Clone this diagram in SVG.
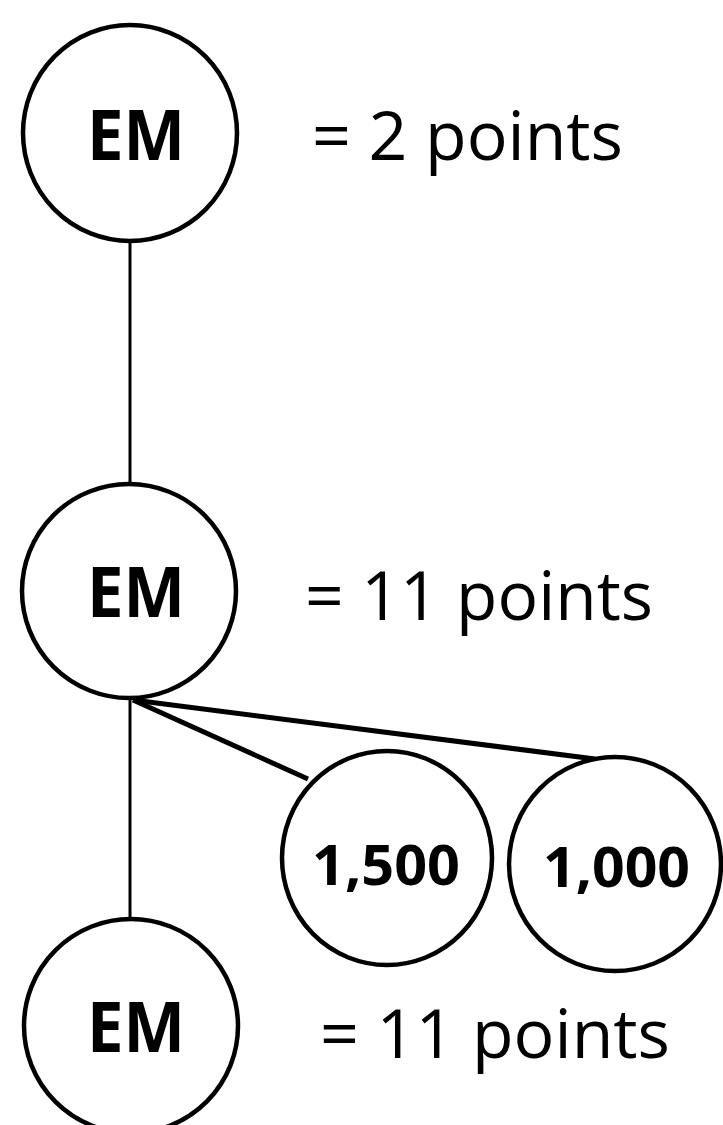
<svg xmlns="http://www.w3.org/2000/svg" width="723" height="1125" viewBox="0 0 723 1125">
<style>
.node{fill:#fff;stroke:#000;stroke-width:4.5}
.em{font-family:"Open Sans","Liberation Sans",Arial,sans-serif;font-weight:bold;font-size:70px;fill:#000}
.num{font-family:"Open Sans","Liberation Sans",Arial,sans-serif;font-weight:bold;font-size:56px;fill:#000}
.lbl{font-family:"Open Sans","Liberation Sans",Arial,sans-serif;font-size:68px;fill:#000}
.thin{stroke:#000;stroke-width:3;fill:none}
.thick{stroke:#000;stroke-width:5;fill:none}
</style>
<rect width="723" height="1125" fill="#fff"/>
<g id="connectors">
<line class="thin" x1="130" y1="242" x2="130" y2="484"/>
<line class="thin" x1="130" y1="698" x2="130" y2="919"/>
<line class="thick" x1="133" y1="700" x2="308" y2="779"/>
<line class="thick" x1="133" y1="700" x2="595" y2="759"/>
</g>
<g id="em1">
<ellipse class="node" cx="130" cy="133" rx="107" ry="108"/>
<text class="em" x="87" y="160" textLength="98" lengthAdjust="spacingAndGlyphs">EM</text>
</g>
<text class="lbl" x="312" y="160" textLength="311" lengthAdjust="spacingAndGlyphs">= 2 points</text>
<g id="em2">
<ellipse class="node" cx="129" cy="591" rx="107" ry="107"/>
<text class="em" x="87" y="617" textLength="98" lengthAdjust="spacingAndGlyphs">EM</text>
</g>
<text class="lbl" x="305" y="620" textLength="348" lengthAdjust="spacingAndGlyphs">= 11 points</text>
<g id="n1500">
<ellipse class="node" cx="387" cy="858" rx="105" ry="107"/>
<text class="num" x="312" y="885" textLength="148" lengthAdjust="spacingAndGlyphs">1,500</text>
</g>
<g id="n1000">
<ellipse class="node" cx="615" cy="864" rx="106" ry="107"/>
<text class="num" x="543" y="887" textLength="147" lengthAdjust="spacingAndGlyphs">1,000</text>
</g>
<g id="em3">
<ellipse class="node" cx="131" cy="1026" rx="107" ry="107"/>
<text class="em" x="87" y="1052" textLength="98" lengthAdjust="spacingAndGlyphs">EM</text>
</g>
<text class="lbl" x="320" y="1058" textLength="350" lengthAdjust="spacingAndGlyphs">= 11 points</text>
</svg>
